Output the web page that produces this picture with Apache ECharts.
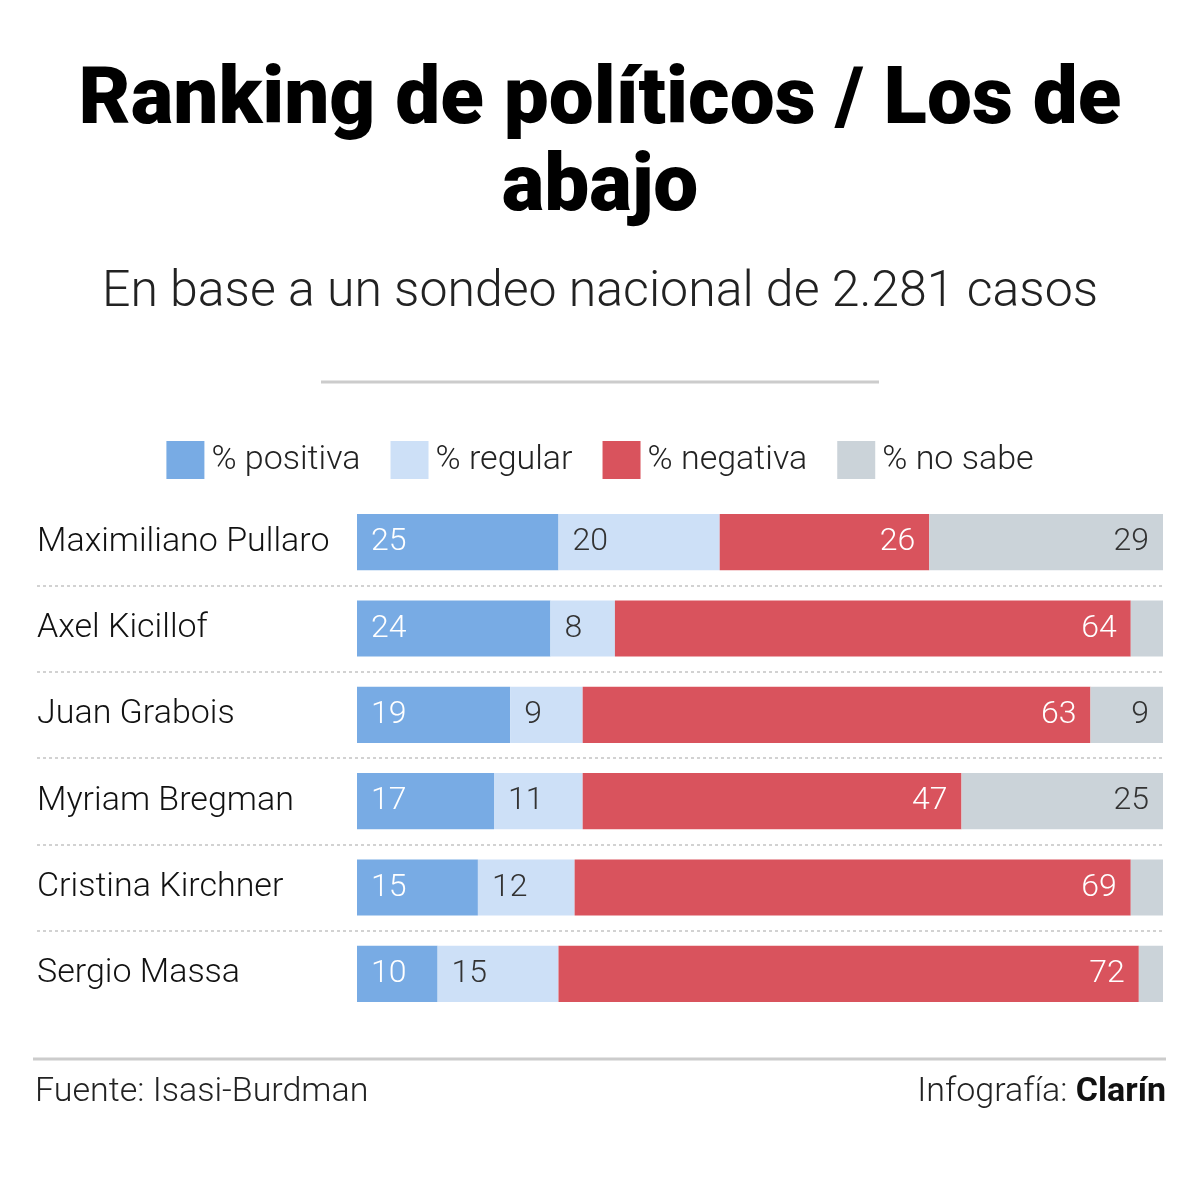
<!DOCTYPE html>
<html>
<head>
<meta charset="utf-8">
<script src="https://cdn.jsdelivr.net/npm/echarts@6/dist/echarts.min.js"></script>
<style>
  html, body { margin: 0; padding: 0; background: #fff; }
  #chart { width: 1200px; height: 1184px; }
</style>
</head>
<body>
<div id="chart"></div>
<script>
const names = ['Maximiliano Pullaro', 'Axel Kicillof', 'Juan Grabois', 'Myriam Bregman', 'Cristina Kirchner', 'Sergio Massa']
const positiva = [25, 24, 19, 17, 15, 10]
const regular = [20, 8, 9, 11, 12, 15]
const negativa = [26, 64, 63, 47, 69, 72]
const noSabe = [29, 4, 9, 25, 4, 3]
const seriesNames = ['% positiva', '% regular', '% negativa', '% no sabe']

const FONT = 'Roboto'
const chart = echarts.init(document.getElementById('chart'))

function barSeries(name, data, color, textColor, pos) {
  return {
    name: name,
    type: 'bar',
    stack: 'total',
    xAxisIndex: 0,
    yAxisIndex: 0,
    barCategoryGap: '35%',
    itemStyle: { color: color },
    label: {
      show: true,
      position: pos,
      distance: 14,
      color: textColor,
      fontFamily: FONT,
      fontWeight: 300,
      fontSize: 32,
      padding: [3, 0, 0, 0],
      formatter(p) {
        // small segments carry no number
        return p.value >= 5 ? p.value : ''
      }
    },
    emphasis: { disabled: true },
    data: data
  }
}

chart.setOption({
  backgroundColor: '#fff',
  animation: false,
  title: [
    {
      text: 'Ranking de políticos / Los de\nabajo',
      left: 'center',
      top: 54,
      textStyle: {
        fontFamily: FONT,
        fontWeight: 900,
        fontSize: 80,
        lineHeight: 87,
        color: '#000'
      }
    },
    {
      text: 'En base a un sondeo nacional de 2.281 casos',
      left: 'center',
      top: 263,
      textStyle: {
        fontFamily: FONT,
        fontWeight: 300,
        fontSize: 50,
        color: '#222'
      }
    }
  ],
  legend: {
    data: seriesNames,
    top: 436,
    left: 'center',
    itemWidth: 38,
    itemHeight: 38,
    itemGap: 30,
    icon: 'rect',
    selectedMode: false,
    textStyle: {
      fontFamily: FONT,
      fontWeight: 300,
      fontSize: 34,
      color: '#222',
      padding: [0, 0, 0, 2]
    }
  },
  grid: [
    { left: 357, right: 37, top: 499, height: 518 },
    { left: 37, right: 37, top: 499, height: 518 }
  ],
  xAxis: [
    { gridIndex: 0, type: 'value', min: 0, max: 100, show: false },
    { gridIndex: 1, type: 'value', min: 0, max: 1, show: false }
  ],
  yAxis: [
    {
      gridIndex: 0,
      type: 'category',
      inverse: true,
      data: names,
      axisLine: { show: false },
      axisTick: { show: false },
      splitLine: { show: false },
      axisLabel: {
        align: 'left',
        margin: 320,
        fontFamily: FONT,
        fontWeight: 300,
        fontSize: 34,
        color: '#111',
        padding: [4, 0, 0, 0]
      }
    },
    {
      gridIndex: 1,
      type: 'category',
      inverse: true,
      data: names,
      axisLine: { show: false },
      axisTick: { show: false },
      axisLabel: { show: false },
      splitLine: {
        show: true,
        showMinLine: false,
        showMaxLine: false,
        lineStyle: { color: '#d2d2d2', width: 2, type: [3, 3] }
      }
    }
  ],
  series: [
    barSeries(seriesNames[0], positiva, '#78abe4', '#fff', 'insideLeft'),
    barSeries(seriesNames[1], regular, '#cde0f7', '#333', 'insideLeft'),
    barSeries(seriesNames[2], negativa, '#d9535d', '#fff', 'insideRight'),
    barSeries(seriesNames[3], noSabe, '#cbd3d9', '#333', 'insideRight')
  ],
  graphic: [
    {
      type: 'line',
      shape: { x1: 321, y1: 382, x2: 879, y2: 382 },
      style: { stroke: '#cccccc', lineWidth: 3 }
    },
    {
      type: 'line',
      shape: { x1: 33, y1: 1059, x2: 1166, y2: 1059 },
      style: { stroke: '#cccccc', lineWidth: 3 }
    },
    {
      type: 'text',
      left: 35,
      top: 1075,
      style: {
        text: 'Fuente: Isasi-Burdman',
        font: '300 34px Roboto',
        fill: '#222'
      }
    },
    {
      type: 'text',
      right: 34,
      top: 1075,
      style: {
        text: '{a|Infografía: }{b|Clarín}',
        rich: {
          a: { fontFamily: FONT, fontWeight: 300, fontSize: 34, fill: '#222' },
          b: { fontFamily: FONT, fontWeight: 700, fontSize: 34, fill: '#111' }
        }
      }
    }
  ]
})
</script>
</body>
</html>
